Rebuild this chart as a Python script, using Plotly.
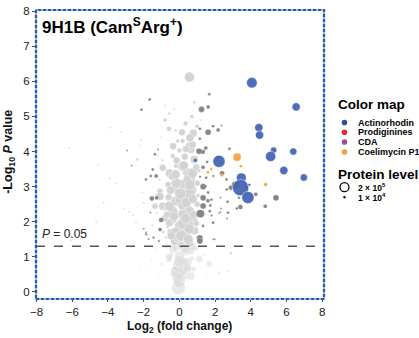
import plotly.graph_objects as go

# ---------------- data (log2 FC, -log10 P, protein level) ----------------
bg_x = [0.56, -0.8, -0.57, -0.8, -0.59, 0.99, 0.77, 0.59, 0.65, 0.0, -0.37, -0.93, -0.18, 0.37, 0.56,
        0.18, -0.25, -0.63, -1.09, -0.18, 0.46, 0.74, -0.93, -0.37, 0.56, 0.84, 0.18, 0.18, 0.56, -0.56,
        0.0, 0.37, -0.46, -0.28, 0.56, 0.37, -0.37, 0.0, -0.09, 0.0, 0.0, -0.05, 1.12, 1.68, 0.65,
        2.05, 2.22, 2.7, -1.55, -2.25, -1.87,
        0.56, 0.36, 0.19, -0.56, 0.1, -0.56, -1.09, -1.37, 0.46, 0.74, 0.56, -0.18,
        -0.6, 0.5, 0.3, -0.35, 0.7, -0.7, 0.9, -0.2, 0.85, 0.8, -0.8, -0.6, 1.0, 1.0, -0.4, 0.95, 0.3,
        -0.1, 0.35, 0.7, 0.85, -0.3, -0.2,
        -3.87, -3.27, -6.2, -2.13, -2.19, -2.37, -4.54, -3.91, -3.55, -4.24, -4.66, -3.1, -2.8, -2.6,
        -2.08, -1.99, -6.07, -2.43, -1.3, -1.2, -1.0, -1.3, -1.5, -1.2, -1.0, -0.9, 1.4, 1.5, 1.3,
        1.45, 1.2, 1.4,
        -0.75, -0.45, -0.85, -1.1, -0.3, 0.1, 0.25, 0.9, 1.05, 1.1, -0.65, -0.95, -1.25, -0.5, 0.6,
        0.15, -0.15, 0.45, 0.8, -0.05,
        -0.2, 0.25, 0.6, -0.5, 0.05, 0.4, 0.75, -0.7, -0.3, 0.2, 0.55, 0.95, -0.45, 0.1, 0.5,
        -0.15, 0.3, 0.7, -0.6, 0.0, 0.45, -0.25, 0.2, 0.65, 1.05, -0.1, 0.35, 0.15, -0.35, 0.75]
bg_y = [6.12, 5.31, 5.08, 4.9, 4.65, 4.72, 4.52, 4.39, 4.06, 4.03, 3.87, 3.54, 3.59, 3.44, 3.25,
        3.06, 2.92, 3.06, 2.87, 2.59, 2.64, 2.92, 2.44, 2.3, 2.3, 3.77, 4.3, 2.21, 2.02, 1.97,
        1.88, 1.69, 1.69, 1.45, 1.4, 1.16, 1.21, 1.02, 0.78, 0.55, 0.31, 0.12, 0.94, 0.8, 1.16,
        0.97, 0.55, 0.6, 0.92, 0.74, 0.66,
        4.15, 4.07, 3.58, 3.39, 2.63, 2.44, 2.72, 2.44, 3.2, 3.39, 2.82, 3.1,
        0.9, 0.7, 0.45, 0.5, 0.95, 1.3, 1.25, 1.7, 1.75, 2.2, 2.1, 2.7, 2.5, 3.1, 3.3, 3.55, 3.85,
        4.3, 4.8, 5.0, 5.4, 5.2, 4.6,
        4.68, 4.55, 4.09, 4.32, 4.17, 3.77, 3.62, 3.23, 3.09, 2.54, 2.0, 2.37, 2.28, 2.19,
        2.83, 2.54, 1.47, 1.97, 1.2, 0.5, 0.8, 2.5, 1.9, 3.9, 4.4, 1.7, 1.3, 0.5, 1.9,
        2.2, 4.9, 1.05,
        1.55, 1.05, 2.35, 3.2, 2.05, 1.35, 0.85, 2.05, 2.75, 3.45, 1.85, 3.75, 2.25, 0.95, 1.9,
        2.45, 3.75, 0.65, 0.65, 1.55,
        3.35, 3.6, 3.05, 2.9, 2.8, 2.55, 2.65, 2.2, 2.15, 1.95, 1.8, 1.95, 1.6, 1.6, 1.5,
        1.3, 1.25, 1.3, 1.0, 0.88, 0.85, 0.6, 0.62, 0.45, 1.55, 0.4, 2.1, 4.55, 4.15, 4.2]
bg_level = [2.5e5, 1e4, 2e4, 4e4, 6e4, 4e4, 1.6e5, 1.6e5, 1.6e5, 6e4, 6e4, 1.2e5, 6e4, 1.6e5, 3.5e5,
            2.5e5, 1.6e5, 9e4, 9e4, 2.5e5, 2.5e5, 1.6e5, 1.6e5, 2.5e5, 2.5e5, 1.6e5, 6e4, 2.5e5, 2.5e5, 1.6e5,
            2.5e5, 2.5e5, 1.6e5, 1.6e5, 1.6e5, 1.6e5, 1.6e5, 2.5e5, 2.5e5, 2.5e5, 3.5e5, 4.8e5, 1.2e5, 9e4, 1.2e5,
            1e4, 2.2e4, 2.2e4, 1e4, 1e4, 1e4,
            1.6e5, 1.2e5, 2.5e5, 1.6e5, 3.5e5, 2.5e5, 1.6e5, 9e4, 1.6e5, 2.5e5, 3.5e5, 2.5e5,
            6e4, 9e4, 1.2e5, 9e4, 6e4, 6e4, 9e4, 2.5e5, 1.6e5, 1.6e5, 1.2e5, 1.2e5, 9e4, 9e4, 1.6e5, 1.2e5, 1.2e5,
            4e4, 6e4, 4e4, 2.2e4, 1e4, 2.2e4,
            1e4, 1e4, 1e4, 1e4, 1e4, 2.2e4, 1e4, 1e4, 1e4, 1e4, 1e4, 1e4, 1e4, 1e4,
            1e4, 1e4, 1e4, 1e4, 1e4, 1e4, 2e4, 1.5e4, 1e4, 1e4, 1e4, 2e4, 2e4, 1e4, 1.5e4,
            1e4, 1e4, 1e4,
            2.2e4, 4e4, 2.2e4, 1.5e4, 9e4, 1.2e5, 1.6e5, 6e4, 4e4, 4e4, 2.2e4, 1.5e4, 1.5e4, 6e4, 1.6e5,
            1.6e5, 1.2e5, 1.6e5, 6e4, 2.5e5,
            2e5, 2e5, 2.5e5, 1.6e5, 3e5, 2.5e5, 2e5, 1.2e5, 2e5, 3e5, 2.5e5, 9e4, 1.6e5, 3e5, 2.5e5,
            2.5e5, 2.5e5, 1.6e5, 1.2e5, 3e5, 2e5, 2e5, 2.5e5, 1.6e5, 6e4, 3e5, 2.5e5, 1.2e5, 1.2e5, 1.2e5]

sig_x = [-1.66, -2.12, -2.92, -2.67, -1.87, -1.54, -1.62, -1.87, -2.0, -1.72, -1.02, -1.08, -1.27,
         -1.86, -1.49, -1.3, -1.37, -1.19, -1.6, -1.45, -1.15,
         1.67, 1.24, 1.61, 1.61, 1.89, 2.17, 1.15, 2.36, 2.8, 1.31, 1.48, 1.15, 1.1, 2.17, 2.39, 2.64,
         2.88, 2.65, 3.15, 3.72, 4.28, 3.34, 3.42, 3.22, 2.7, 2.72, 2.22, 2.33, 2.67, 4.81, 5.41,
         1.33, 1.33, 1.18, 1.6, 1.73, 1.7, 2.3, 1.89, 2.3, 1.33, 1.5, 1.61, 1.8, 1.15, 1.15, 1.33,
         1.89, 1.89, 1.98, 1.33, 1.9, 2.05, 1.55]
sig_y = [5.48, 5.19, 4.03, 3.6, 3.2, 2.66, 2.26, 1.69, 1.8, 1.5, 2.05, 1.78, 2.68,
         1.64, 3.49, 3.3, 3.92, 4.06, 3.3, 1.55, 1.45,
         5.63, 5.2, 5.27, 4.55, 4.72, 4.61, 4.65, 4.74, 4.08, 3.99, 4.1, 4.36, 4.01, 3.82, 3.38, 3.2,
         2.97, 2.92, 3.04, 2.99, 2.78, 2.68, 2.42, 2.38, 2.57, 2.26, 2.25, 2.38, 2.09, 2.44, 2.68,
         3.0, 2.68, 2.23, 2.6, 2.46, 2.3, 2.27, 1.99, 2.68, 2.45, 3.25, 2.83, 2.63, 1.54, 1.45, 1.88,
         1.97, 1.5, 1.5, 3.55, 3.3, 3.6, 3.7]
sig_level = [2.2e4, 2.2e4, 1e4, 1e4, 2.2e4, 6e4, 1e4, 1e4, 1e4, 1e4, 6e4, 4e4, 4e4,
             1.5e4, 2.2e4, 4e4, 2.2e4, 1e4, 2.2e4, 1.5e4, 1.5e4,
             2.2e4, 9e4, 4e4, 9e4, 2.2e4, 4e4, 2.2e4, 1e4, 2.2e4, 6e4, 4e4, 2.2e4, 9e4, 4e4, 6e4, 2.2e4,
             6e4, 2.2e4, 1.6e5, 4e4, 4e4, 2.2e4, 6e4, 2.2e4, 2.2e4, 2.2e4, 1e4, 1e4, 1e4, 4e4, 9e4,
             9e4, 9e4, 1.6e5, 4e4, 2.2e4, 2.2e4, 1e4, 1e4, 1e4, 9e4, 2.2e4, 2.2e4, 2.2e4, 9e4, 9e4, 2.2e4,
             2.2e4, 1e4, 1e4, 4e4, 1.5e4, 1e4, 2.2e4]

act_x = [4.06, 6.54, 4.45, 4.49, 5.28, 5.11, 6.38, 2.22, 5.85, 6.97, 3.47, 3.43, 3.84, 3.92, 0.89, 1.16]
act_y = [5.96, 5.27, 4.68, 4.47, 4.04, 3.86, 4.0, 3.72, 3.46, 3.26, 3.25, 2.97, 2.69, 3.05, 3.75, 3.28]
act_level = [2.8e5, 1.7e5, 1.7e5, 1.7e5, 1e5, 2.6e5, 1.3e5, 3.7e5, 1.7e5, 1.3e5, 2.4e5, 6.5e5, 3.7e5,
             2.2e4, 4e4, 1.5e4]

cda_x = [1.81, 1.49]
cda_y = [2.18, 3.01]
cda_level = [1e4, 1e4]

coel_x = [3.23, 3.45, 4.83, 1.79, 1.6, 2.38, 2.88, -0.28]
coel_y = [3.84, 3.58, 3.06, 3.5, 3.41, 3.32, 1.1, 0.67]
coel_level = [1.6e5, 2.2e4, 4e4, 2.2e4, 2.2e4, 2.2e4, 2.2e4, 2.2e4]

pathways = ["Actinorhodin", "Prodiginines", "CDA", "Coelimycin P1"]
size_labels = ["2 × 10<sup>5</sup>", "1 × 10<sup>4</sup>"]
size_levels = [2e5, 1e4]
p_cut = 0.05
thr = 1.30103  # -log10(0.05)

# ---------------- styling ----------------
W, H = 419, 338
ML, MR, MT, MB = 36, 94.5, 10, 38.5
PW, PH = W - ML - MR, H - MT - MB
REF_LEVEL, REF_DIAM = 2e5, 9.0  # area-proportional bubbles
FONT = "Arial, Liberation Sans, sans-serif"


def diam(level):
    return max(REF_DIAM * (level / REF_LEVEL) ** 0.5, 1.8)


colors = {"bg": "#d2d2d2", "sig": "#7a7a7a", "Actinorhodin": "#4262b2",
          "Prodiginines": "#e8292b", "CDA": "#9a4ea6", "Coelimycin P1": "#f6a23c"}
legend_colors = {"Actinorhodin": "#2f4e9e", "Prodiginines": "#e8292b",
                 "CDA": "#9a4ea6", "Coelimycin P1": "#f5a03a"}


def opac(ys, hi):
    return [hi if v >= thr else 0.45 for v in ys]


fig = go.Figure()
groups = [
    (bg_x, bg_y, bg_level, colors["bg"], 0.95, 0.5),
    (sig_x, sig_y, sig_level, colors["sig"], 0.9, 0.35),
    (act_x, act_y, act_level, colors["Actinorhodin"], 0.92, 0.5),
    (cda_x, cda_y, cda_level, colors["CDA"], 0.95, 0.2),
    (coel_x, coel_y, coel_level, colors["Coelimycin P1"], 0.92, 0.4),
]
for xs, ys, lv, col, op, lw in groups:
    fig.add_trace(go.Scatter(
        x=xs, y=ys, mode="markers", hoverinfo="skip", showlegend=False,
        marker=dict(size=[diam(v) for v in lv], sizemode="diameter",
                    color=col, opacity=opac(ys, op),
                    line=dict(width=lw, color="white"))))


def px_x(px):
    return (px - ML) / PW


def px_y(py):
    return (H - MB - py) / PH


shapes = []
shapes.append(dict(type="line", xref="paper", yref="y", x0=0, x1=1, y0=thr, y1=thr,
                   line=dict(color="#555555", width=1.5, dash="dash")))
shapes.append(dict(type="rect", xref="paper", yref="paper", x0=0, x1=1, y0=0, y1=1,
                   line=dict(color="#9ab6e2", width=2.2)))
shapes.append(dict(type="rect", xref="paper", yref="paper", x0=0, x1=1, y0=0, y1=1,
                   line=dict(color="#2a57a6", width=2.2, dash="3px,2px")))

annotations = [
    dict(text="<b>9H1B (Cam<sup>S</sup>Arg<sup>+</sup>)</b>", xref="paper", yref="paper",
         x=px_x(40), y=px_y(26), xanchor="left", yanchor="middle", showarrow=False,
         font=dict(size=17, color="black", family=FONT)),
    dict(text="<i>P</i> = %g" % p_cut, xref="paper", yref="y", x=px_x(40), y=1.66,
         xanchor="left", yanchor="middle", showarrow=False,
         font=dict(size=12, color="#222", family=FONT)),
    dict(text="<b>Color map</b>", xref="paper", yref="paper", x=px_x(337), y=px_y(105),
         xanchor="left", yanchor="middle", showarrow=False,
         font=dict(size=13.5, color="black", family=FONT)),
    dict(text="<b>Protein level</b>", xref="paper", yref="paper", x=px_x(337), y=px_y(174.5),
         xanchor="left", yanchor="middle", showarrow=False,
         font=dict(size=13.5, color="black", family=FONT)),
    dict(text="<b>Log<sub>2</sub> (fold change)</b>", xref="paper", yref="paper",
         x=px_x(180), y=px_y(328), xanchor="center", yanchor="middle", showarrow=False,
         font=dict(size=12, color="#111", family=FONT)),
    dict(text="<b>-Log<sub>10</sub> <i>P</i> value</b>", xref="paper", yref="paper",
         x=px_x(9), y=px_y(152), xanchor="center", yanchor="middle", showarrow=False,
         textangle=-90, font=dict(size=12.5, color="#111", family=FONT)),
]
leg_y = [122.7, 132.5, 142.3, 152.3]
for name, py in zip(pathways, leg_y):
    shapes.append(dict(type="circle", xref="paper", yref="paper", xsizemode="pixel",
                       ysizemode="pixel", xanchor=px_x(345), yanchor=px_y(py),
                       x0=-2.8, x1=2.8, y0=-2.8, y1=2.8,
                       fillcolor=legend_colors[name], line=dict(width=0)))
    annotations.append(dict(text="<b>%s</b>" % name, xref="paper", yref="paper",
                            x=px_x(357), y=px_y(py), xanchor="left", yanchor="middle",
                            showarrow=False, font=dict(size=9, color="black", family=FONT)))
size_y = [187.5, 197.5]
for lab, lv, py in zip(size_labels, size_levels, size_y):
    r = max(diam(lv) / 2, 0.9)
    if lv >= 1e5:
        shapes.append(dict(type="circle", xref="paper", yref="paper", xsizemode="pixel",
                           ysizemode="pixel", xanchor=px_x(345), yanchor=px_y(py),
                           x0=-r, x1=r, y0=-r, y1=r, line=dict(width=1.3, color="black")))
    else:
        shapes.append(dict(type="circle", xref="paper", yref="paper", xsizemode="pixel",
                           ysizemode="pixel", xanchor=px_x(345), yanchor=px_y(py),
                           x0=-r, x1=r, y0=-r, y1=r, fillcolor="black",
                           line=dict(width=0.5, color="black")))
    annotations.append(dict(text="<b>%s</b>" % lab, xref="paper", yref="paper",
                            x=px_x(357), y=px_y(py), xanchor="left", yanchor="middle",
                            showarrow=False, font=dict(size=8.5, color="black", family=FONT)))

fig.update_layout(
    width=W, height=H, margin=dict(l=ML, r=MR, t=MT, b=MB, pad=0, autoexpand=False),
    paper_bgcolor="white", plot_bgcolor="white",
    font=dict(family=FONT, color="#222"),
    shapes=shapes, annotations=annotations,
    xaxis=dict(range=[-8.03, 8.1], tickvals=list(range(-8, 9, 2)),
               ticktext=[("−%d" % -v) if v < 0 else str(v) for v in range(-8, 9, 2)],
               showgrid=False, zeroline=False, showline=False, automargin=False,
               ticks="outside", ticklen=2, tickcolor="#555", tickfont=dict(size=11.5)),
    yaxis=dict(range=[-0.2, 8.03], tickvals=list(range(0, 9)),
               showgrid=False, zeroline=False, showline=False, automargin=False,
               ticks="outside", ticklen=3, tickcolor="#555", tickfont=dict(size=11.5)),
)

fig.write_html("out.html")
